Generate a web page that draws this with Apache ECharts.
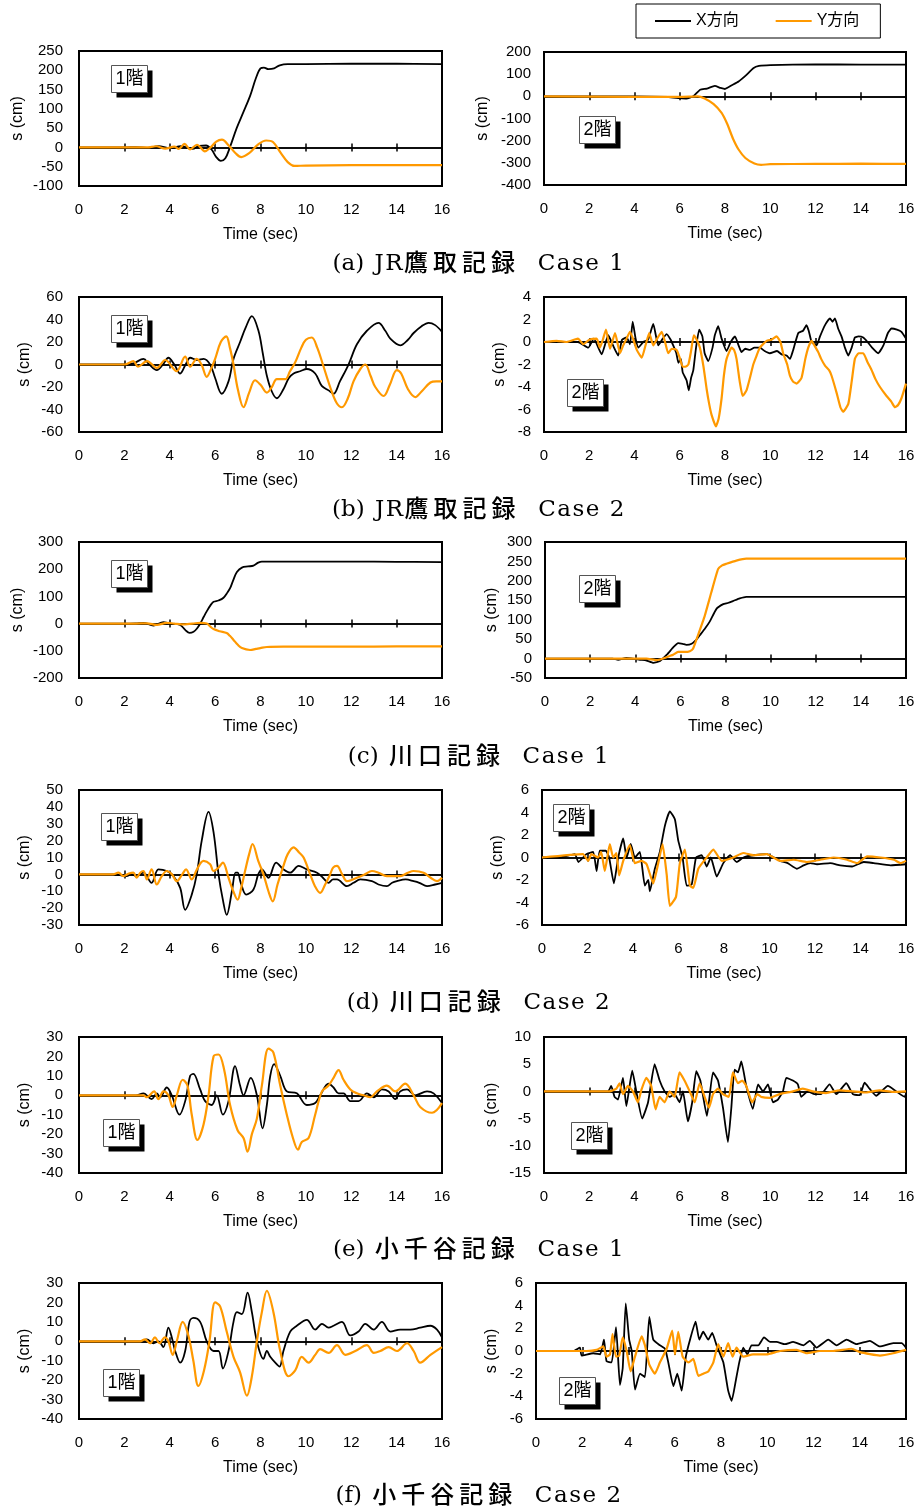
<!DOCTYPE html>
<html>
<head>
<meta charset="utf-8">
<script src="https://cdn.jsdelivr.net/npm/echarts@6/dist/echarts.min.js"></script>
<style>
  html, body { margin: 0; padding: 0; background: #fff; }
  #chart { width: 918px; height: 1510px; }
</style>
</head>
<body>
<div id="chart"></div>
<script>
// Displacement records, [time (sec), s (cm)]

// (a) JR鷹取記録 Case 1
const jr1_f1_x = [[0,0],[2,0],[2.5,1],[3,-1],[3.5,3],[4,-2],[4.5,3],[5,-4],[5.3,4],[5.6,5],[5.85,-6],[6.05,-25],[6.25,-35],[6.45,-28],[6.65,0],[6.95,50],[7.25,92],[7.55,135],[7.8,180],[8.0,205],[8.15,207],[8.35,203],[8.6,205],[8.85,213],[9.2,216],[10,216],[12,217],[14,217],[16,216]];
const jr1_f1_y = [[0,0],[3,0],[3.4,3],[3.8,-3],[4.2,2],[4.4,-4],[4.65,9],[4.9,-5],[5.2,7],[5.55,-10],[5.8,0],[6.05,15],[6.3,20],[6.6,5],[6.9,-15],[7.15,-25],[7.5,-15],[7.9,8],[8.25,18],[8.55,14],[8.9,-15],[9.2,-38],[9.5,-48],[10,-47],[12,-46],[14,-46],[16,-46]];
const jr1_f2_x = [[0,0],[4,0],[5.5,-3],[6,-8],[6.3,-10],[6.6,0],[6.9,30],[7.2,35],[7.55,47],[7.8,38],[8.0,33],[8.3,50],[8.6,67],[8.95,97],[9.25,127],[9.5,137],[10,141],[12,144],[14,143],[16,143]];
const jr1_f2_y = [[0,0],[4,-2],[6,-2],[6.8,0],[7.1,-10],[7.5,-35],[7.85,-75],[8.1,-125],[8.35,-190],[8.6,-240],[8.9,-278],[9.3,-303],[9.6,-309],[10,-306],[12,-305],[14,-304],[16,-305]];

// (b) JR鷹取記録 Case 2
const jr2_f1_x = [[0,0],[2,0],[2.4,1],[2.84,5],[3.1,0],[3.43,-5],[3.7,0],[3.94,6],[4.2,0],[4.46,-8],[4.7,0],[4.9,6],[5.2,4],[5.49,5],[5.78,0],[6.0,-12],[6.29,-26],[6.59,-15],[6.81,5],[7.1,20],[7.35,33],[7.62,43],[7.91,30],[8.1,10],[8.28,-10],[8.5,-24],[8.72,-30],[9.01,-22],[9.25,-12],[9.46,-8],[9.75,-6],[10.04,-4],[10.41,-8],[10.7,-19],[11.0,-23],[11.22,-26],[11.5,-15],[11.88,0],[12.25,18],[12.69,30],[13.2,37],[13.5,30],[13.72,23],[14.16,17],[14.5,22],[14.75,28],[15.1,34],[15.41,37],[15.7,35],[16,29]];
const jr2_f1_y = [[0,0],[2,0],[2.4,3],[2.6,-2],[3.0,3],[3.43,-3],[3.8,4],[4.3,-6],[4.68,7],[4.9,-2],[5.19,5],[5.4,0],[5.63,-11],[5.8,-5],[6.0,5],[6.25,20],[6.49,25],[6.65,15],[6.81,0],[7.0,-22],[7.25,-38],[7.5,-25],[7.76,-14],[8.0,-18],[8.28,-25],[8.5,-20],[8.72,-13],[9.09,-13],[9.3,-6],[9.53,2],[9.8,15],[10.0,22],[10.26,24],[10.5,15],[10.75,0],[11.07,-20],[11.35,-34],[11.59,-38],[11.85,-30],[12.1,-15],[12.4,-4],[12.62,0],[12.85,-10],[13.06,-20],[13.43,-28],[13.7,-18],[14.01,-5],[14.2,-8],[14.5,-22],[14.82,-29],[15.1,-24],[15.49,-16],[15.75,-15],[16,-15]];
const jr2_f2_x = [[0,0],[1.5,0],[1.96,-0.5],[2.2,0.3],[2.55,-1.1],[2.84,0.6],[3.05,-0.3],[3.28,-1.2],[3.45,0.2],[3.65,0.4],[3.8,-0.2],[3.92,1.8],[4.05,0.3],[4.17,-0.5],[4.39,0],[4.6,0.2],[4.83,1.6],[5.05,-0.3],[5.25,0.3],[5.42,0.7],[5.6,0.2],[5.71,-0.3],[5.85,-1.0],[5.94,-1.85],[6.05,-1.5],[6.13,-2.7],[6.3,-3.4],[6.4,-4.3],[6.5,-3.2],[6.6,-2.5],[6.72,-0.5],[6.86,1.1],[7.0,0.5],[7.1,-1.0],[7.26,-1.7],[7.45,-0.5],[7.55,0.6],[7.7,1.4],[7.85,0.3],[8.07,-0.8],[8.25,0],[8.44,0.5],[8.6,-0.3],[8.73,-0.9],[8.9,-0.6],[9.1,-0.7],[9.3,-0.5],[9.54,-0.5],[9.75,-0.8],[9.98,-1.0],[10.3,-0.8],[10.5,-1.1],[10.72,-1.2],[10.87,-1.5],[11.0,-0.8],[11.24,0.8],[11.45,1.0],[11.6,1.5],[11.7,1.0],[11.83,0],[12.05,-0.3],[12.2,0.5],[12.42,1.5],[12.64,2.1],[12.75,1.8],[12.86,2.1],[13.0,1.2],[13.15,0.5],[13.3,-0.5],[13.45,-1.2],[13.6,-0.5],[13.74,0.4],[13.9,0.5],[14.11,0.4],[14.3,0],[14.5,-0.5],[14.77,-1.0],[15.0,-0.3],[15.2,0.8],[15.36,1.2],[15.6,1.1],[15.8,0.9],[16,0.3]];
const jr2_f2_y = [[0,0],[0.56,0.1],[1.0,0],[1.5,0.3],[1.74,-0.2],[2.0,0.2],[2.33,0.3],[2.47,-0.5],[2.6,0.2],[2.74,1.1],[2.92,-0.6],[3.14,0.8],[3.36,-1.0],[3.5,-0.3],[3.65,0.3],[3.8,0.9],[3.95,0.2],[4.1,-0.7],[4.32,-1.4],[4.5,-0.2],[4.65,0.8],[4.83,-0.3],[5.0,0.3],[5.2,0.9],[5.35,0],[5.49,-1.0],[5.65,-0.6],[5.86,-0.7],[6.0,-1.4],[6.13,-2.2],[6.25,-2.2],[6.38,-2.0],[6.5,-0.8],[6.62,0.6],[6.75,0.2],[6.89,-0.5],[7.05,-2.2],[7.19,-4.2],[7.3,-5.5],[7.41,-6.5],[7.6,-7.5],[7.72,-6.8],[7.85,-5.0],[7.95,-3.0],[8.07,-1.5],[8.29,-0.5],[8.4,-0.7],[8.51,-1.5],[8.65,-3.5],[8.78,-4.8],[8.95,-4.3],[9.1,-3.2],[9.25,-2.0],[9.4,-1.2],[9.54,-0.5],[9.84,0.1],[10.05,0.2],[10.28,0.5],[10.45,0],[10.57,-1.0],[10.75,-2.0],[10.87,-3.0],[11.0,-3.5],[11.16,-3.7],[11.38,-3.2],[11.55,-1.5],[11.68,-0.5],[11.83,0.1],[11.95,-0.3],[12.12,-0.9],[12.25,-1.5],[12.42,-2.1],[12.6,-2.5],[12.71,-3.0],[12.93,-4.5],[13.1,-5.8],[13.22,-6.2],[13.45,-5.5],[13.6,-3.5],[13.74,-1.5],[13.9,-1.0],[14.11,-1.0],[14.3,-1.8],[14.48,-2.5],[14.65,-3.3],[14.85,-4.0],[15.14,-4.8],[15.35,-5.3],[15.51,-5.8],[15.65,-5.6],[15.8,-5.0],[16,-3.7]];

// (c) 川口記録 Case 1
const kw1_f1_x = [[0,0],[2,0],[2.5,1],[2.84,3],[3.28,-7],[3.72,5],[4.0,0],[4.46,-5],[4.7,-25],[4.87,-34],[5.05,-30],[5.2,-18],[5.34,0],[5.5,25],[5.63,45],[5.8,68],[5.93,80],[6.15,85],[6.37,95],[6.55,115],[6.66,130],[6.8,160],[6.96,190],[7.18,206],[7.45,210],[7.69,213],[7.9,224],[8.06,228],[8.28,228],[10,228],[12,228],[14,227],[16,226]];
const kw1_f1_y = [[0,0],[2.5,0],[3.0,1],[3.43,-5],[3.87,3],[4.2,0],[4.53,-3],[5.0,0],[5.34,3],[5.63,0],[5.8,-12],[5.93,-20],[6.2,-28],[6.51,-35],[6.65,-45],[6.81,-60],[7.0,-78],[7.18,-90],[7.54,-97],[7.8,-93],[7.99,-90],[8.28,-86],[9.01,-85],[10,-85],[12,-85],[14,-84],[16,-84]];
const kw1_f2_x = [[0,0],[3,0],[3.24,-3],[3.6,2],[4.0,-1],[4.2,-3],[4.5,-5],[4.8,-11],[5.1,-6],[5.4,10],[5.7,30],[5.9,40],[6.1,38],[6.27,35],[6.5,38],[6.7,48],[6.86,60],[7.1,78],[7.3,95],[7.6,128],[7.9,140],[8.1,143],[8.33,148],[8.63,155],[8.92,159],[10,159],[12,159],[14,159],[16,159]];
const kw1_f2_y = [[0,0],[4.5,0],[4.94,-4],[5.24,0],[5.5,6],[5.68,10],[5.9,17],[6.2,17],[6.42,19],[6.56,25],[6.78,60],[7.08,110],[7.37,170],[7.67,230],[7.85,240],[8.04,244],[8.48,252],[8.92,257],[10,257],[12,257],[14,257],[16,257]];

// (d) 川口記録 Case 2
const kw2_f1_x = [[0,0],[1.5,0],[2.1,-1],[2.3,0],[2.54,-1],[2.84,1],[3.2,-5],[3.5,3],[3.87,2],[4.16,-1],[4.46,-8],[4.68,-21],[4.97,-12],[5.19,0],[5.41,20],[5.71,37],[5.93,25],[6.15,0],[6.34,-15],[6.51,-24],[6.74,-10],[6.9,1],[6.99,1],[7.13,-5],[7.37,-12],[7.69,-9],[7.9,0],[8.06,3],[8.35,-2],[8.69,7],[9.01,3],[9.31,1],[9.68,5],[10.04,3],[10.49,1],[10.75,-2],[11.0,-5],[11.2,-3],[11.37,-3],[11.81,-7],[12.1,-5],[12.4,-3],[12.91,-4],[13.2,-6],[13.57,-7],[13.8,-5],[14.01,-4],[14.4,-3],[14.75,-4],[15.0,-5],[15.34,-7],[15.7,-6],[16,-5]];
const kw2_f1_y = [[0,0],[1.5,0],[1.74,1],[1.96,-1],[2.2,0.5],[2.4,1],[2.54,-2],[2.7,1],[2.84,2],[2.99,-3],[3.2,3],[3.43,-6],[3.65,-1],[3.87,2],[4.1,0],[4.31,-4],[4.55,0],[4.72,3],[4.97,-3],[5.2,3],[5.49,8],[5.78,6],[5.93,2],[6.15,4],[6.34,7],[6.59,-2],[6.8,-10],[6.99,-15],[7.15,-8],[7.32,2],[7.5,12],[7.65,18],[7.9,8],[8.13,0],[8.35,-10],[8.54,-16],[8.75,-6],[9.01,5],[9.2,12],[9.46,16],[9.7,13],[9.9,10],[10.19,0],[10.4,-7],[10.63,-11],[10.85,-6],[11.07,0],[11.2,4],[11.37,5],[11.6,0],[11.81,-4],[12.25,-2],[12.6,0],[12.91,2],[13.2,1],[13.57,-1],[14.16,-1],[14.5,1],[14.75,2],[15.19,1],[15.5,-2],[15.78,-4],[16,-2]];
const kw2_f2_x = [[0,0],[0.78,0],[1.44,0.3],[1.6,-0.4],[1.95,0.3],[2.25,0.5],[2.4,-1.2],[2.54,0.6],[2.8,0.6],[2.95,0],[3.16,-2.3],[3.35,0],[3.57,1.7],[3.72,0],[3.9,1.2],[4.08,0],[4.3,0.5],[4.52,-2.5],[4.67,-2.0],[4.74,-3.0],[4.96,-1.0],[5.18,0.5],[5.4,2.8],[5.62,4.1],[5.84,3.4],[5.99,1.5],[6.18,0],[6.36,-2.5],[6.58,-2.4],[6.77,0],[7.02,0.2],[7.24,-0.8],[7.42,0],[7.68,-1.7],[7.97,-0.5],[8.27,0.2],[8.56,-0.4],[8.85,0],[9.3,0.2],[9.88,0.3],[10.47,-0.3],[10.8,-0.5],[11.2,-1.0],[11.5,-0.7],[11.79,-0.5],[12.09,-0.6],[12.67,-0.5],[13.11,-0.7],[13.63,-0.8],[14.14,-0.4],[14.58,-0.5],[15.32,-0.7],[16,-0.6]];
const kw2_f2_y = [[0,0],[1.8,0.3],[2.03,-0.3],[2.17,0.3],[2.47,0],[2.6,0.5],[2.76,-1.2],[2.98,1.2],[3.13,0],[3.27,0.4],[3.39,-1.6],[3.57,-0.3],[3.86,1.1],[4.08,-0.5],[4.38,-0.3],[4.6,-0.6],[4.89,-2.3],[5.11,-0.5],[5.3,1.2],[5.48,-1.5],[5.62,-4.3],[5.89,-3.5],[6.06,-0.5],[6.28,0.7],[6.5,-2.5],[6.65,-2.7],[6.87,-1.0],[7.24,0],[7.53,0.7],[7.9,-0.3],[8.41,0],[8.85,0.4],[9.3,0.2],[9.88,0.3],[10.47,-0.3],[11.06,-0.2],[11.64,-0.4],[12.23,-0.2],[12.82,0],[13.41,-0.2],[13.85,-0.5],[14.29,0.1],[14.88,0],[15.47,-0.2],[15.76,-0.5],[16,-0.3]];

// (e) 小千谷記録 Case 1
const oj1_f1_x = [[0,0],[2.5,0],[2.84,1],[3.2,-2],[3.43,1],[3.57,-1],[3.87,4],[4.09,0],[4.43,-10],[4.68,-3],[4.9,10],[5.04,11],[5.34,3],[5.56,-3],[5.85,-5],[6.07,0],[6.34,-10],[6.59,-3],[6.88,15],[7.1,5],[7.25,0],[7.57,9],[7.84,0],[8.09,-17],[8.28,-5],[8.43,10],[8.6,16],[8.87,10],[9.16,2],[9.6,1],[10.04,-5],[10.41,-4],[10.63,0],[11.0,6],[11.22,4],[11.44,1],[11.66,1],[11.96,-3],[12.32,-3],[12.69,1],[12.99,-1],[13.35,3],[13.65,2],[13.94,-2],[14.16,2],[14.46,3],[14.82,0],[15.34,2],[15.63,1],[16,-4]];
const oj1_f1_y = [[0,0],[2.84,0],[2.99,-1],[3.31,2],[3.5,-2],[3.72,2],[3.94,0],[4.13,-6],[4.31,0],[4.57,8],[4.78,5],[4.97,-10],[5.22,-23],[5.49,-15],[5.71,0],[5.93,20],[6.15,21],[6.4,13],[6.66,-5],[6.99,-18],[7.25,-22],[7.43,-29],[7.62,-20],[7.84,-12],[8.06,5],[8.35,24],[8.57,22],[8.87,5],[9.16,-10],[9.43,-22],[9.65,-28],[9.82,-24],[10.12,-22],[10.41,-10],[10.71,2],[11.0,5],[11.22,9],[11.44,13],[11.66,8],[11.96,3],[12.25,1],[12.54,0],[12.84,-1],[13.13,2],[13.57,5],[13.94,2],[14.38,6],[14.75,0],[15.04,-6],[15.56,-9],[16,-4]];
const oj1_f2_x = [[0,0],[2.02,0],[2.83,0],[2.97,1],[3.12,-1],[3.27,-1.5],[3.49,2.5],[3.64,-2.7],[3.9,3.8],[4.08,0],[4.34,-5],[4.6,-2],[4.89,5],[5.11,2],[5.33,0],[5.55,-1],[5.77,-0.5],[5.99,-2],[6.14,0],[6.36,-5.5],[6.55,-2],[6.73,3.7],[6.91,2],[7.2,-4.5],[7.47,3.5],[7.69,2],[7.91,-3],[8.13,-9.3],[8.28,-3],[8.42,4],[8.57,3.5],[8.72,5.5],[8.94,1],[9.23,-3.2],[9.46,1.3],[9.68,0],[9.9,1.3],[10.12,-2],[10.34,-1.5],[10.56,0],[10.71,2.5],[11.0,2],[11.22,1.3],[11.37,-1],[11.66,0],[11.96,-0.5],[12.25,-0.5],[12.62,1.3],[12.92,-0.5],[13.36,1.5],[13.65,-0.5],[13.95,-0.7],[14.17,1.6],[14.39,0.5],[14.68,-0.8],[15.2,1.0],[15.57,0],[15.94,-1.0],[16,-0.5]];
const oj1_f2_y = [[0,0],[2.16,0],[2.9,0],[3.2,0.5],[3.34,1.5],[3.49,-0.5],[3.71,1.0],[3.93,0],[4.15,-2.0],[4.3,0.2],[4.52,2.5],[4.74,1.0],[4.93,-3.3],[5.11,-1.0],[5.33,-2.0],[5.55,0],[5.77,-1.0],[5.99,3.5],[6.21,2.0],[6.44,0],[6.66,-2.0],[6.88,1.5],[7.1,-1.0],[7.29,-3.0],[7.47,-0.5],[7.69,0.5],[7.91,-0.5],[8.17,-1.0],[8.35,3.5],[8.57,1.5],[8.76,2.0],[8.94,1.0],[9.2,-2.0],[9.43,-0.5],[9.6,-1.0],[9.97,-1.2],[10.41,-0.5],[11.0,0],[11.44,0.5],[11.88,0],[12.47,-0.3],[13.06,0.2],[13.65,0],[14.24,-0.2],[14.83,0.2],[15.42,-0.1],[16,0]];

// (f) 小千谷記録 Case 2
const oj2_f1_x = [[0,0],[2.69,0],[2.99,1],[3.28,-1],[3.5,0],[3.72,-3],[3.94,7],[4.09,2],[4.24,-5],[4.46,-11],[4.68,-5],[4.87,10],[5.04,12],[5.34,10],[5.63,0],[5.93,-5],[6.15,-5],[6.34,-14],[6.59,-5],[6.81,10],[6.96,15],[7.18,14],[7.43,25],[7.62,15],[7.84,0],[8.13,-9],[8.28,-5],[8.43,-8],[8.65,-11],[8.84,-13],[9.01,-5],[9.31,5],[9.6,8],[10.04,11],[10.41,6],[10.71,9],[11.0,7],[11.22,8],[11.59,10],[11.96,3],[12.32,5],[12.62,9],[12.99,6],[13.35,10],[13.72,5],[14.16,6],[14.6,6],[15.04,7],[15.49,8],[15.78,6],[16,2]];
const oj2_f1_y = [[0,0],[2.69,0],[2.91,1],[3.13,-1],[3.35,2],[3.54,-1],[3.79,2],[3.94,0],[4.13,-7],[4.31,0],[4.57,10],[4.82,3],[5.04,-10],[5.26,-23],[5.51,-15],[5.75,0],[6.0,20],[6.22,18],[6.51,5],[6.81,-8],[7.1,-16],[7.4,-28],[7.62,-18],[7.84,0],[8.06,15],[8.28,26],[8.57,15],[8.87,-5],[9.24,-18],[9.53,-15],[9.82,-8],[10.12,-11],[10.41,-7],[10.63,-4],[11.0,-6],[11.37,-2],[11.74,-7],[12.18,-5],[12.69,-2],[12.99,-6],[13.28,-5],[13.65,-3],[14.01,-5],[14.46,-1],[14.75,-5],[15.04,-11],[15.49,-7],[16,-3]];
const oj2_f2_x = [[0,0],[1.61,0],[1.9,0.3],[1.97,-0.4],[2.48,-0.2],[2.77,-0.3],[2.94,1.0],[3.05,-0.9],[3.27,-1.0],[3.46,2.1],[3.63,-3.0],[3.75,-1.5],[3.88,4.2],[4.03,1.0],[4.14,0],[4.28,-3.4],[4.5,-2.0],[4.71,-2.3],[4.9,3.0],[5.07,1.0],[5.36,0.5],[5.58,0.2],[5.72,-1.0],[5.94,-3.1],[6.11,-2.0],[6.3,-3.5],[6.48,-0.5],[6.66,1.0],[6.9,2.6],[7.06,1.0],[7.23,1.7],[7.45,1.0],[7.62,1.6],[7.81,0.5],[8.1,-1.0],[8.31,-3.5],[8.46,-4.4],[8.65,-2.5],[8.79,-1.0],[8.96,0.3],[9.14,-0.3],[9.32,0.5],[9.61,0.5],[9.86,1.2],[10.12,0.8],[10.4,0.8],[10.76,0.6],[11.12,0.8],[11.56,0.5],[11.84,0.9],[12.13,0.3],[12.64,1.0],[13.0,0.5],[13.43,1.0],[13.86,0.6],[14.44,0.9],[14.87,0.4],[15.45,0.7],[15.81,0.7],[16,0.3]];
const oj2_f2_y = [[0,0],[2.19,0],[2.62,0.1],[2.91,0.4],[3.05,-0.5],[3.2,-0.3],[3.31,1.5],[3.46,-0.5],[3.6,-0.4],[3.75,1.2],[3.92,0],[4.09,-1.8],[4.28,-0.5],[4.57,1.3],[4.71,0.5],[4.9,-1.2],[5.14,-2.0],[5.36,-1.0],[5.65,0.2],[5.89,1.8],[6.01,-0.3],[6.15,1.7],[6.34,-0.5],[6.59,-1.0],[6.8,-0.7],[7.02,-2.2],[7.23,-2.0],[7.45,-1.8],[7.67,-1.0],[7.88,0.6],[8.1,-0.5],[8.31,0.7],[8.5,-0.5],[8.67,0.3],[8.96,-0.5],[9.39,-0.3],[9.97,-0.3],[10.55,0],[11.27,0.1],[11.7,-0.2],[12.28,0],[12.85,0],[13.65,0.2],[14.01,-0.1],[14.87,-0.4],[15.45,-0.2],[16,0.1]];

// Panel order: row by row, 1階 on the left, 2階 on the right
const xDirection = [jr1_f1_x, jr1_f2_x, jr2_f1_x, jr2_f2_x, kw1_f1_x, kw1_f2_x, kw2_f1_x, kw2_f2_x, oj1_f1_x, oj1_f2_x, oj2_f1_x, oj2_f2_x];
const yDirection = [jr1_f1_y, jr1_f2_y, jr2_f1_y, jr2_f2_y, kw1_f1_y, kw1_f2_y, kw2_f1_y, kw2_f2_y, oj1_f1_y, oj1_f2_y, oj2_f1_y, oj2_f2_y];
const seriesNames = ['X方向', 'Y方向'];
const floorLabels = ['1階', '2階', '1階', '2階', '1階', '2階', '1階', '2階', '1階', '2階', '1階', '2階'];
const captionTags = ['(a)', '(b)', '(c)', '(d)', '(e)', '(f)'];
const captionTexts = ['JR鷹取記録  Case 1', 'JR鷹取記録  Case 2', '川口記録  Case 1', '川口記録  Case 2', '小千谷記録  Case 1', '小千谷記録  Case 2'];
const yMin  = [-100, -400, -60, -8, -200, -50, -30, -6, -40, -15, -40, -6];
const yMax  = [250, 200, 60, 4, 300, 300, 50, 6, 30, 10, 30, 6];
const yStep = [50, 100, 20, 2, 100, 50, 10, 2, 10, 5, 10, 2];
const timeMin = 0, timeMax = 16, timeStep = 2;

// Layout (pixels)
const gridBoxes = [
  [79, 51, 363, 135], [544, 52, 362, 133],
  [79, 297, 363, 135], [544, 297, 362, 135],
  [79, 542, 363, 136], [545, 542, 361, 136],
  [79, 790, 363, 135], [542, 790, 364, 135],
  [79, 1037, 363, 136], [544, 1037, 362, 136],
  [79, 1283, 363, 136], [536, 1283, 370, 136]
];
const yNameGaps = [53, 53, 46, 36, 53, 45, 46, 36, 46, 44, 46, 36];
const floorBoxes = [
  [111, 65], [579, 116], [111, 315], [567, 379],
  [111, 560], [579, 575], [101, 813], [553, 804],
  [103, 1119], [571, 1122], [103, 1369], [559, 1377]
];
const captionY = [264, 510, 757, 1003, 1250, 1496];
const captionCenterX = 479;

const SANS = "'Liberation Sans', Arial, 'Noto Sans CJK JP', sans-serif";
const LATIN_FONT = "23px 'DejaVu Serif', 'Liberation Serif', serif";
const CJK_FONT = "500 24px 'Noto Sans CJK JP', sans-serif";
const LATIN_SPACING = 1.5;
const CJK_SPACING = 5;
const CJK_RAISE = 2;
const lineColors = ['#000000', '#FF9900'];

// caption: the tag stays compact, kanji get their own face and tracking
const measureCtx = document.createElement('canvas').getContext('2d');
function spacedCaption(tag, str, cx, cy) {
  const tokens = [tag, ' '].concat(Array.from(str));
  const isCjk = tokens.map(t => /[\u3000-\u9fff]/.test(t));
  const advance = tokens.map((t, k) => {
    measureCtx.font = isCjk[k] ? CJK_FONT : LATIN_FONT;
    return measureCtx.measureText(t).width + (isCjk[k] ? CJK_SPACING : LATIN_SPACING);
  });
  const total = advance.reduce((a, b) => a + b, 0);
  let x = cx - total / 2;
  const children = [];
  tokens.forEach((t, k) => {
    if (t !== ' ') {
      children.push({ type: 'text', x: x, y: isCjk[k] ? cy - CJK_RAISE : cy,
        style: { text: t, fill: '#000', font: isCjk[k] ? CJK_FONT : LATIN_FONT, textAlign: 'left', textVerticalAlign: 'middle' } });
    }
    x += advance[k];
  });
  return { type: 'group', z: 100, children: children };
}

const chart = echarts.init(document.getElementById('chart'), null, { renderer: 'canvas' });

const grid = [], xAxis = [], yAxis = [], series = [], graphic = [];

gridBoxes.forEach((b, i) => {
  const isLeft = i % 2 === 0;
  grid.push({
    left: b[0], top: b[1], width: b[2], height: b[3],
    show: true, borderColor: '#000', borderWidth: 2, backgroundColor: 'transparent'
  });

  // time axis with labels along the bottom of the frame
  xAxis.push({
    gridIndex: i, type: 'value', position: 'bottom',
    min: timeMin, max: timeMax, interval: timeStep,
    axisLine: { show: false, onZero: false },
    axisTick: { show: false },
    splitLine: { show: false },
    axisLabel: { color: '#000', fontSize: 15, fontFamily: SANS, margin: 16 },
    name: 'Time (sec)', nameLocation: 'middle', nameGap: 41,
    nameTextStyle: { color: '#000', fontSize: 16, fontFamily: SANS }
  });
  // zero line, lower half of the crossing ticks
  xAxis.push({
    gridIndex: i, type: 'value', position: 'bottom',
    min: timeMin, max: timeMax, interval: timeStep,
    axisLine: { show: true, onZero: true, onZeroAxisIndex: i, lineStyle: { color: '#000', width: 1.5 } },
    axisTick: { show: true, length: 4, lineStyle: { color: '#000', width: 1.5 } },
    axisLabel: { show: false }, splitLine: { show: false }
  });
  // zero line, upper half of the crossing ticks
  xAxis.push({
    gridIndex: i, type: 'value', position: 'top',
    min: timeMin, max: timeMax, interval: timeStep,
    axisLine: { show: true, onZero: true, onZeroAxisIndex: i, lineStyle: { color: '#000', width: 1.5 } },
    axisTick: { show: true, length: 4, lineStyle: { color: '#000', width: 1.5 } },
    axisLabel: { show: false }, splitLine: { show: false }
  });

  yAxis.push({
    gridIndex: i, type: 'value',
    min: yMin[i], max: yMax[i], interval: yStep[i],
    axisLine: { show: false }, axisTick: { show: false }, splitLine: { show: false },
    axisLabel: { color: '#000', fontSize: 15, fontFamily: SANS, margin: isLeft ? 16 : 13 },
    name: 's (cm)', nameLocation: 'middle', nameRotate: 90, nameGap: yNameGaps[i],
    nameTextStyle: { color: '#000', fontSize: 16, fontFamily: SANS }
  });

  [xDirection[i], yDirection[i]].forEach((data, k) => {
    series.push({
      name: seriesNames[k], type: 'line',
      xAxisIndex: i * 3, yAxisIndex: i,
      data: data, symbol: 'none', showSymbol: false,
      smooth: isLeft ? 0.35 : 0.15,
      lineStyle: { color: lineColors[k], width: k === 0 ? 1.8 : 2.2 },
      itemStyle: { color: lineColors[k] },
      z: 3 + k, silent: true, animation: false
    });
  });

  // floor tag with drop shadow
  const fb = floorBoxes[i];
  graphic.push({
    type: 'group', left: fb[0], top: fb[1], z: 100,
    children: [
      { type: 'rect', shape: { x: 5, y: 5, width: 36, height: 27 }, style: { fill: '#000' } },
      { type: 'rect', shape: { x: 0, y: 0, width: 36, height: 27 }, style: { fill: '#fff', stroke: '#555', lineWidth: 1 } },
      { type: 'text', x: 18, y: 14, style: { text: floorLabels[i], fill: '#000', font: "18px " + SANS, textAlign: 'center', textVerticalAlign: 'middle' } }
    ]
  });
});

captionTexts.forEach((c, r) => {
  graphic.push(spacedCaption(captionTags[r], c, captionCenterX, captionY[r]));
});

chart.setOption({
  animation: false,
  backgroundColor: '#fff',
  legend: {
    data: seriesNames, left: 636, top: 4,
    padding: [9, 21, 9, 19], itemGap: 37, itemWidth: 36, itemHeight: 2,
    icon: 'rect', borderColor: '#000', borderWidth: 1,
    textStyle: { color: '#000', fontSize: 16, fontFamily: SANS },
    selectedMode: false
  },
  grid, xAxis, yAxis, series, graphic
});
</script>
</body>
</html>
